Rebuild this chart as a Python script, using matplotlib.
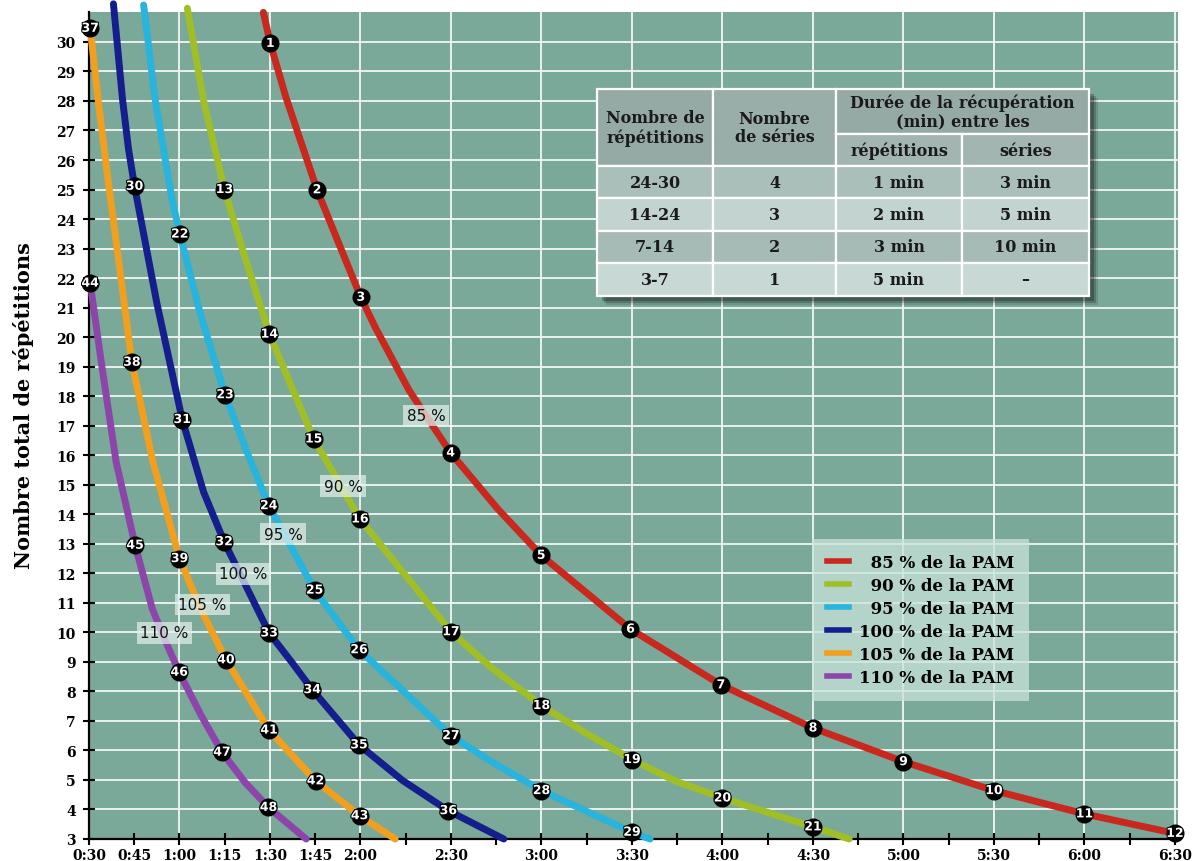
import matplotlib
matplotlib.use("Agg")
import matplotlib.pyplot as plt
import matplotlib.patheffects as pe
from matplotlib.lines import Line2D
from matplotlib.patches import Rectangle

# --- curves: time (s) and total reps ---
t85 = [87.8, 90.1, 95.2, 105.6, 111.5, 120.1, 125.0, 136.1, 149.9, 165.6, 179.9, 209.5, 239.5, 270, 300, 330, 360, 390]
r85 = [31.0, 29.95, 28.15, 24.99, 23.5, 21.35, 20.31, 18.2, 16.08, 14.17, 12.61, 10.11, 8.22, 6.76, 5.62, 4.64, 3.85, 3.19]

t90 = [62.6, 68.0, 74.9, 81.7, 89.8, 97.4, 104.5, 119.8, 150, 163.2, 180, 194.3, 210, 224.2, 240, 270, 282]
r90 = [31.14, 28.0, 25.0, 22.7, 20.1, 18.26, 16.55, 13.84, 10.02, 8.82, 7.52, 6.61, 5.69, 4.97, 4.39, 3.41, 3.0]

t95 = [48.1, 51.9, 57.5, 60.1, 66.9, 75.1, 82.7, 89.6, 104.8, 119.5, 150, 163.4, 180, 210, 216]
r95 = [31.25, 28.07, 24.68, 23.49, 20.79, 18.05, 16.02, 14.29, 11.43, 9.41, 6.5, 5.62, 4.64, 3.23, 3.0]

t100 = [38.1, 41.1, 43.1, 45.1, 52.5, 60.9, 68.0, 74.8, 89.7, 97.2, 104, 119.5, 134, 149.1, 167.5]
r100 = [31.29, 28.07, 26.37, 25.11, 21.15, 17.21, 14.75, 13.07, 9.98, 8.99, 8.06, 6.19, 4.98, 3.96, 3.0]

t105 = [30.4, 33.0, 35.7, 38.6, 41.5, 44.2, 51.2, 60, 67, 75.4, 89.7, 105.1, 119.7, 131.5]
r105 = [30.46, 28.07, 25.81, 23.55, 21.29, 19.15, 15.77, 12.5, 10.8, 9.07, 6.69, 4.97, 3.79, 3.0]

t110 = [30.4, 34.0, 39.0, 45.3, 51.0, 56.0, 59.9, 67.2, 74.1, 81.7, 89.5, 102]
r110 = [21.83, 19.2, 15.77, 12.95, 10.79, 9.55, 8.65, 7.18, 5.94, 4.92, 4.07, 3.0]

# --- numbered points on each curve ---
n85 = list(range(1, 13))
mt85 = [90.1, 105.6, 120.1, 149.9, 179.9, 209.5, 239.5, 270, 300, 330, 360, 390]
mr85 = [29.95, 24.99, 21.35, 16.08, 12.61, 10.11, 8.22, 6.76, 5.62, 4.64, 3.85, 3.19]

n90 = list(range(13, 22))
mt90 = [74.9, 89.8, 104.5, 119.8, 150, 180, 210, 240, 270]
mr90 = [25.0, 20.1, 16.55, 13.84, 10.02, 7.52, 5.69, 4.39, 3.41]

n95 = list(range(22, 30))
mt95 = [60.1, 75.1, 89.6, 104.8, 119.5, 150, 180, 210]
mr95 = [23.49, 18.05, 14.29, 11.43, 9.41, 6.5, 4.64, 3.23]

n100 = list(range(30, 37))
mt100 = [45.1, 60.9, 74.8, 89.7, 104, 119.5, 149.1]
mr100 = [25.11, 17.21, 13.07, 9.98, 8.06, 6.19, 3.96]

n105 = list(range(37, 44))
mt105 = [30.4, 44.2, 60, 75.4, 89.7, 105.1, 119.7]
mr105 = [30.46, 19.15, 12.5, 9.07, 6.69, 4.97, 3.79]

n110 = list(range(44, 49))
mt110 = [30.4, 45.3, 59.9, 74.1, 89.5]
mr110 = [21.83, 12.95, 8.65, 5.94, 4.07]

pct = ["85 %", "90 %", "95 %", "100 %", "105 %", "110 %"]
colors = ["#c8281e", "#a0be28", "#28b4dc", "#141e8c", "#f0a01e", "#8c46aa"]

# where the small "xx %" tags sit (time, reps)
tag_t = [141.7, 114.2, 94.4, 81.2, 67.5, 54.9]
tag_r = [17.35, 14.95, 13.33, 11.98, 10.94, 9.98]

xtick_vals = list(range(30, 391, 15))
xtick_labels = ["0:30", "0:45", "1:00", "1:15", "1:30", "1:45", "2:00", "", "2:30", "",
                "3:00", "", "3:30", "", "4:00", "", "4:30", "", "5:00", "", "5:30", "",
                "6:00", "", "6:30"]
ytick_vals = list(range(3, 31))

table_head = ["Nombre de\nrépétitions", "Nombre\nde séries",
              "Durée de la récupération\n(min) entre les", "répétitions", "séries"]
table_rows = [["24-30", "4", "1 min", "3 min"],
              ["14-24", "3", "2 min", "5 min"],
              ["7-14", "2", "3 min", "10 min"],
              ["3-7", "1", "5 min", "–"]]

curves = [(t85, r85, mt85, mr85, n85), (t90, r90, mt90, mr90, n90),
          (t95, r95, mt95, mr95, n95), (t100, r100, mt100, mr100, n100),
          (t105, r105, mt105, mr105, n105), (t110, r110, mt110, mr110, n110)]

W, H = 1194, 862
fig = plt.figure(figsize=(W / 100, H / 100), dpi=100)
fig.patch.set_facecolor("white")
ax = fig.add_axes([89 / W, 22 / H, 1089 / W, 826.6 / H])
ax.set_facecolor("#7aa899")
ax.set_xlim(30, 391)
ax.set_ylim(3, 31)

for s in range(60, 391, 30):
    ax.axvline(s, color="white", lw=1.3, alpha=0.9, zorder=1)
for r in range(4, 31):
    ax.axhline(r, color="white", lw=1.3, alpha=0.9, zorder=1)

for sp in ["top", "right"]:
    ax.spines[sp].set_visible(False)
for sp in ["left", "bottom"]:
    ax.spines[sp].set_linewidth(1.6)
    ax.spines[sp].set_zorder(2)

ax.set_xticks(xtick_vals)
ax.set_xticklabels(xtick_labels, fontfamily="DejaVu Serif", fontweight="bold", fontsize=10)
ax.set_yticks(ytick_vals)
ax.set_yticklabels([str(v) for v in ytick_vals], fontfamily="DejaVu Serif", fontweight="bold", fontsize=10)
ax.tick_params(axis="x", direction="inout", length=9, width=1.5, pad=2)
ax.tick_params(axis="y", direction="inout", length=9, width=1.5, pad=5)

num_fx = [pe.withStroke(linewidth=1.5, foreground="black")]
for (t, r, mt, mr, nums), c in zip(curves, colors):
    ax.plot(t, r, color=c, lw=5, solid_capstyle="round", solid_joinstyle="round",
            zorder=3, clip_on=False)
    ax.plot(mt, mr, "o", ms=12, mfc="black", mec="black", zorder=6, clip_on=False)
    for x, y, n in zip(mt, mr, nums):
        ax.text(x, y, str(n), ha="center", va="center", color="white", fontsize=9,
                fontweight="bold", family="DejaVu Sans", zorder=7, path_effects=num_fx,
                clip_on=False)

for x, y, lab in zip(tag_t, tag_r, pct):
    ax.text(x, y, lab, ha="center", va="center", fontsize=11, color="#111111",
            family="DejaVu Sans", zorder=5,
            bbox=dict(boxstyle="square,pad=0.22", fc="#e2f0ec", ec="none", alpha=0.72))

fig.text(24 / W, 1 - 406 / H, "Nombre total de répétitions", rotation=90, ha="center",
         va="center", fontsize=15, fontweight="bold", family="DejaVu Serif")

# legend, digits padded with figure spaces so the "%" line up
leg_labels = [("\u2007" * (3 - len(p.split()[0]))) + p + " de la PAM" for p in pct]
handles = [Line2D([], [], color=c, lw=4) for c in colors]
leg = ax.legend(handles, leg_labels, loc="upper left",
                bbox_to_anchor=(812 / W, 1 - 540 / H), bbox_transform=fig.transFigure,
                frameon=True, fancybox=False, framealpha=0.75, facecolor="#c8e2da",
                edgecolor="none", handlelength=1.3, handletextpad=0.6, labelspacing=0.36,
                borderpad=0.9, borderaxespad=0,
                prop=dict(family="DejaVu Serif", weight="bold", size=12))
leg.set_zorder(8)

# table in the upper right, drawn in its own pixel-unit axes
tax = fig.add_axes([597 / W, 1 - 297 / H, 492 / W, 207 / H])
tax.set_xlim(0, 492)
tax.set_ylim(207, 0)
tax.axis("off")
for k, a in enumerate([0.12, 0.18, 0.25]):
    off = 9 - 2 * k
    tax.add_patch(Rectangle((off, off), 492, 207, fc="black", ec="none", alpha=a,
                            clip_on=False, zorder=1))
cx = [0, 116, 239, 365, 492]
ry = [0, 45, 77, 109, 142, 174, 207]
tfont = dict(family="DejaVu Serif", weight="bold", size=11.5, color="#1a1a1a")
head_cells = [(cx[0], ry[0], cx[1], ry[2], "#96aaa5"), (cx[1], ry[0], cx[2], ry[2], "#9aaea9"),
              (cx[2], ry[0], cx[4], ry[1], "#96aaa5"), (cx[2], ry[1], cx[3], ry[2], "#a2b5b0"),
              (cx[3], ry[1], cx[4], ry[2], "#a2b5b0")]
for (x0, y0, x1, y1, fc), txt in zip(head_cells, table_head):
    tax.add_patch(Rectangle((x0, y0), x1 - x0, y1 - y0, fc=fc, ec="white", lw=1.6,
                            clip_on=False, zorder=2))
    tax.text((x0 + x1) / 2, (y0 + y1) / 2, txt, ha="center", va="center",
             linespacing=1.15, zorder=3, **tfont)
row_fc = ["#abbfba", "#c3d3cf", "#a7bbb6", "#c8d8d4"]
for i, row in enumerate(table_rows):
    y0, y1 = ry[i + 2], ry[i + 3]
    for j, txt in enumerate(row):
        x0, x1 = cx[j], cx[j + 1]
        tax.add_patch(Rectangle((x0, y0), x1 - x0, y1 - y0, fc=row_fc[i], ec="white",
                                lw=1.6, clip_on=False, zorder=2))
        tax.text((x0 + x1) / 2, (y0 + y1) / 2, txt, ha="center", va="center",
                 zorder=3, **tfont)

fig.savefig("out.png", dpi=100)
